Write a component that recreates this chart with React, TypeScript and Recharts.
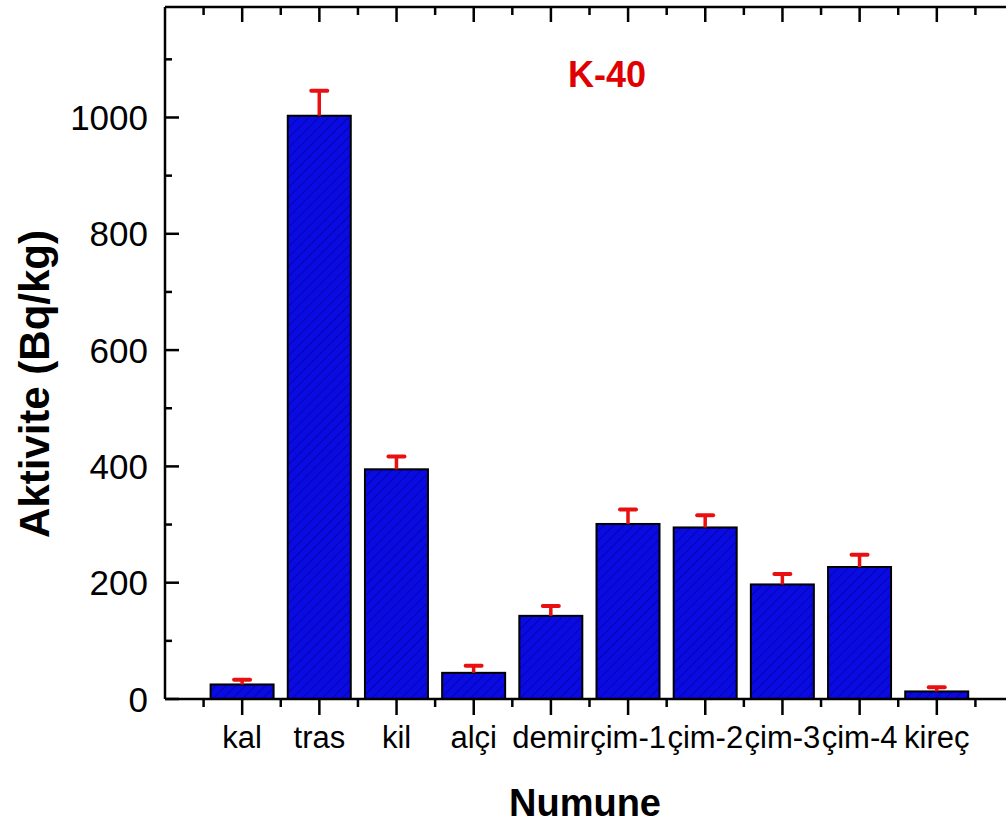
import React from 'react';
import { BarChart, Bar, XAxis, YAxis } from 'recharts';

const names = ['kal', 'tras', 'kil', 'alçi', 'demir', 'çim-1', 'çim-2', 'çim-3', 'çim-4', 'kireç'];
const values = [25, 1003, 395, 45, 143, 301, 295, 197, 227, 13];
const errors = [8, 43, 22, 12, 17, 25, 21, 18, 21, 7];
const xTicks = [0.5, 1, 1.5, 2, 2.5, 3, 3.5, 4, 4.5, 5, 5.5, 6, 6.5, 7, 7.5, 8, 8.5, 9, 9.5, 10, 10.5];
const yTicks = [0, 100, 200, 300, 400, 500, 600, 700, 800, 900, 1000, 1100];

const data = names.map((name, i) => ({ pos: i + 1, name, value: values[i], err: errors[i] }));

const FONT = '"Liberation Sans", Arial, sans-serif';
const AXIS = { stroke: '#000', strokeWidth: 2.5 };

const BottomTick = (props: any) => {
  const { x, y, payload } = props;
  const v = payload.value;
  const major = Number.isInteger(v);
  return (
    <g>
      <line x1={x} x2={x} y1={y} y2={y + (major ? 16 : 8)} stroke="#000" strokeWidth={2.5} />
      {major && (
        <text x={x} y={y + 49} textAnchor="middle" fontSize={31} fontFamily={FONT} fill="#000">
          {names[v - 1]}
        </text>
      )}
    </g>
  );
};

const TopTick = (props: any) => {
  const { x, y, payload } = props;
  const major = Number.isInteger(payload.value);
  return <line x1={x} x2={x} y1={y} y2={y + (major ? 15 : 8)} stroke="#000" strokeWidth={2.5} />;
};

const LeftTick = (props: any) => {
  const { x, y, payload } = props;
  const v = payload.value;
  const major = v % 200 === 0;
  return (
    <g>
      <line x1={x} x2={x + (major ? 14 : 7)} y1={y} y2={y} stroke="#000" strokeWidth={2.5} />
      {major && (
        <text x={x - 17} y={y} dy="0.36em" textAnchor="end" fontSize={35} fontFamily={FONT} fill="#000">
          {v}
        </text>
      )}
    </g>
  );
};

const RightTick = (props: any) => {
  const { x, y, payload } = props;
  const major = payload.value % 200 === 0;
  return <line x1={x} x2={x - (major ? 14 : 7)} y1={y} y2={y} stroke="#000" strokeWidth={2.5} />;
};

// hatched bar + one-sided (upper) error bar
const HatchBar = (props: any) => {
  const { x, y, width, height, payload } = props;
  const ppu = payload.value ? height / payload.value : 0;
  const ey = y - payload.err * ppu;
  const cx = x + width / 2;
  return (
    <g>
      <defs>
        <pattern id="hatch" patternUnits="userSpaceOnUse" width="7" height="7" patternTransform="rotate(45)">
          <rect width="7" height="7" fill="#0a0ae2" />
          <line x1="0" y1="0" x2="0" y2="7" stroke="#000078" strokeWidth="1" />
        </pattern>
      </defs>
      <rect x={x} y={y} width={width} height={height} fill="url(#hatch)" stroke="#000" strokeWidth={2} />
      <line x1={cx} x2={cx} y1={y} y2={ey} stroke="#e81010" strokeWidth={3.5} />
      <line x1={cx - 8} x2={cx + 8} y1={ey} y2={ey} stroke="#e81010" strokeWidth={4} strokeLinecap="round" />
    </g>
  );
};

export default function App() {
  return (
    <div style={{ position: 'absolute', left: 0, top: 0, width: 1006, height: 825, overflow: 'hidden', background: '#fff' }}>
      <BarChart width={1030} height={825} data={data} margin={{ top: 0, right: 0, left: 0, bottom: 0 }}>
        <XAxis
          dataKey="pos"
          type="number"
          domain={[0, 11]}
          ticks={xTicks}
          interval={0}
          height={126}
          axisLine={AXIS}
          tickLine={false}
          tickSize={0}
          tickMargin={0}
          tick={BottomTick}
        />
        <XAxis
          xAxisId="top"
          orientation="top"
          dataKey="pos"
          type="number"
          domain={[0, 11]}
          ticks={xTicks}
          interval={0}
          height={7}
          axisLine={AXIS}
          tickLine={false}
          tickSize={0}
          tickMargin={0}
          tick={TopTick}
        />
        <YAxis
          type="number"
          domain={[0, 1190]}
          ticks={yTicks}
          interval={0}
          width={165}
          axisLine={AXIS}
          tickLine={false}
          tickSize={0}
          tickMargin={0}
          tick={LeftTick}
        />
        <YAxis
          yAxisId="right"
          orientation="right"
          type="number"
          domain={[0, 1190]}
          ticks={yTicks}
          interval={0}
          width={16}
          axisLine={AXIS}
          tickLine={false}
          tickSize={0}
          tickMargin={0}
          tick={RightTick}
        />
        <Bar dataKey="value" barSize={63} shape={HatchBar} isAnimationActive={false} />
        <text x={607} y={87} textAnchor="middle" fontSize={36} fontWeight="bold" fontFamily={FONT} fill="#e00000">
          K-40
        </text>
        <text x={585} y={816} textAnchor="middle" fontSize={38} fontWeight="bold" fontFamily={FONT} fill="#000">
          Numune
        </text>
        <text
          x={34}
          y={384}
          dy="0.36em"
          textAnchor="middle"
          fontSize={42}
          fontWeight="bold"
          fontFamily={FONT}
          fill="#000"
          transform="rotate(-90, 34, 384)"
        >
          Aktivite (Bq/kg)
        </text>
      </BarChart>
    </div>
  );
}
